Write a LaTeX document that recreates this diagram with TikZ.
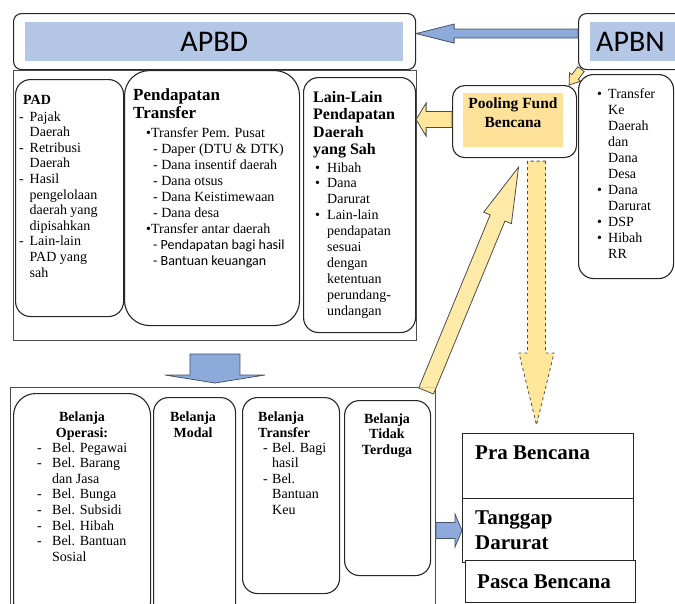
\documentclass[tikz,border=0pt]{standalone}
\usepackage{fontspec}
\setmainfont{Liberation Serif}
\newfontfamily\calfont{Carlito}
\usetikzlibrary{calc}

\definecolor{barblue}{HTML}{B4C7E7}
\definecolor{arrowblue}{HTML}{8EAADB}
\definecolor{arrowedge}{HTML}{44546A}
\definecolor{fundgold}{HTML}{FFE699}
\definecolor{poolgold}{HTML}{FFE29A}

\tikzset{
  roundbox/.style={draw=black!85, line width=1.1pt, rounded corners=#1, anchor=north west, inner sep=0pt},
  frame/.style={draw=black!70, line width=0.9pt, anchor=north west, inner sep=0pt},
  stagebox/.style={draw=black!85, line width=1pt, fill=white, anchor=north west, inner sep=0pt},
  bar/.style={fill=#1, anchor=north west, inner sep=0pt},
  bluearrow/.style={fill=arrowblue, draw=arrowedge, line width=0.8pt},
  goldarrow/.style={fill=fundgold, draw=black!70, line width=0.8pt},
  body/.style={anchor=base west, inner sep=0pt, font=\fontsize{14}{15.6}\selectfont},
  head/.style={anchor=base, inner sep=0pt, font=\bfseries\fontsize{14}{16}\selectfont}
}

% list with a marker column
\newcommand{\hanglist}[2][11pt]{\begin{tabular}[t]{@{}p{#1}@{}l@{}}#2\end{tabular}}
\newcommand{\lines}[2][l]{\begin{tabular}[t]{@{}#1@{}}#2\end{tabular}}
\newcommand{\bul}{\textbullet}

% block arrow: [style]{tail}{tip}{shaft half width}{head half width}{head length}
\newcommand{\blockarrow}[6][]{%
  \coordinate (ba-h) at ($(#3)!#6!(#2)$);
  \draw[#1] ($(#2)!#4!90:(#3)$) -- ($(ba-h)!#4!90:(#3)$) -- ($(ba-h)!#5!90:(#3)$)
    -- (#3) -- ($(ba-h)!#5!-90:(#3)$) -- ($(ba-h)!#4!-90:(#3)$) -- ($(#2)!#4!-90:(#3)$) -- cycle;
}

\begin{document}
\begin{tikzpicture}[x=1pt,y=-1pt]
    \useasboundingbox (0,0) rectangle (675,603);
    \clip (0,0) rectangle (675,603);

    % --- 1. Top row: APBD and APBN ---
    \node[roundbox=8pt, minimum width=402pt, minimum height=56pt] (apbd) at (13,13) {};
    \node[bar=barblue, minimum width=378pt, minimum height=39pt, font=\calfont\fontsize{30}{30}\selectfont] (apbdbar) at (25,22) {APBD};
    \node[roundbox=8pt, fill=white, minimum width=110pt, minimum height=56pt] (apbn) at (578,13) {};
    \node[bar=barblue, minimum width=90pt, minimum height=39pt] (apbnbar) at (590,22) {};
    \node[anchor=west, inner sep=0pt, font=\calfont\fontsize{30}{30}\selectfont] (apbntxt) at (596,41.5) {APBN};

    % --- 2. Revenue block ---
    \node[frame, minimum width=403pt, minimum height=270pt] (rev) at (13,70) {};
    \node[roundbox=15pt, minimum width=108pt, minimum height=237pt] (pad) at (15,79) {};
    \node[roundbox=25pt, minimum width=175pt, minimum height=255pt] (ptrans) at (124,70) {};
    \node[roundbox=15pt, minimum width=112pt, minimum height=255pt] (lain) at (303,77) {};

    \node[body, font=\bfseries\fontsize{14}{16}\selectfont] (padtitle) at (23,104) {PAD};
    \node[body] (padlist) at (19,121) {\hanglist[10.5pt]{- & Pajak\\ & Daerah\\ - & Retribusi\\ & Daerah\\ - & Hasil\\
        & pengelolaan\\ & daerah yang\\ & dipisahkan\\ - & Lain-lain\\ & PAD yang\\ & sah}};

    \node[body, font=\bfseries\fontsize{17}{18}\selectfont] (ptitle) at (133,100) {\lines{Pendapatan\\Transfer}};
    \node[body, font=\fontsize{14}{16}\selectfont] (plist) at (146,137) {\lines{\bul Transfer Pem. Pusat\\
        \hspace{7pt}- Daper (DTU \& DTK)\\ \hspace{7pt}- Dana insentif daerah\\ \hspace{7pt}- Dana otsus\\
        \hspace{7pt}- Dana Keistimewaan\\ \hspace{7pt}- Dana desa\\ \bul Transfer antar daerah\\
        \hspace{7pt}{\calfont - Pendapatan bagi hasil}\\ \hspace{7pt}{\calfont - Bantuan keuangan}}};

    \node[body, font=\bfseries\fontsize{16}{17.5}\selectfont] (ltitle) at (313,102) {\lines{Lain-Lain\\Pendapatan\\Daerah\\yang Sah}};
    \node[body, font=\fontsize{14}{15.9}\selectfont] (llist) at (315,172) {\hanglist[12pt]{\bul & Hibah\\ \bul & Dana\\
        & Darurat\\ \bul & Lain-lain\\ & pendapatan\\ & sesuai\\ & dengan\\ & ketentuan\\ & perundang-\\ & undangan}};

    % --- 3. Pooling fund and central transfers ---
    \node[roundbox=12pt, fill=white, minimum width=124pt, minimum height=72pt] (pool) at (452,85) {};
    \node[bar=poolgold, minimum width=100pt, minimum height=54pt] (poolbar) at (463,93) {};
    \node[head, font=\bfseries\fontsize{15.5}{19}\selectfont] (pooltxt) at (513,108.5) {\lines[c]{Pooling Fund\\Bencana}};

    \node[roundbox=15pt, minimum width=95pt, minimum height=204pt] (dana) at (578,74) {};
    \node[body, font=\fontsize{14}{16}\selectfont] (danalist) at (597,98) {\hanglist[11pt]{\bul & Transfer\\ & Ke\\
        & Daerah\\ & dan\\ & Dana\\ & Desa\\ \bul & Dana\\ & Darurat\\ \bul & DSP\\ \bul & Hibah\\ & RR}};

    % --- 4. Spending block ---
    \node[frame, minimum width=425pt, minimum height=230pt] (spend) at (10,387) {};
    \node[roundbox=22pt, minimum width=137pt, minimum height=230pt] (bop) at (13,393) {};
    \node[roundbox=15pt, minimum width=82pt, minimum height=226pt] (bmod) at (153,397) {};
    \node[roundbox=15pt, minimum width=97pt, minimum height=196pt] (btrf) at (242,397) {};
    \node[roundbox=15pt, minimum width=86pt, minimum height=175pt] (btt) at (344,400) {};

    \node[head] (boptitle) at (82,421) {\lines[c]{Belanja\\Operasi:}};
    \node[body] (boplist) at (37,452) {\hanglist[15pt]{- & Bel. Pegawai\\ - & Bel. Barang\\ & dan Jasa\\ - & Bel. Bunga\\
        - & Bel. Subsidi\\ - & Bel. Hibah\\ - & Bel. Bantuan\\ & Sosial}};
    \node[head] (bmodtitle) at (193,421) {\lines[c]{Belanja\\Modal}};
    \node[body, font=\bfseries\fontsize{14}{16}\selectfont] (btrftitle) at (258,421) {\lines{Belanja\\Transfer}};
    \node[body] (btrflist) at (263,452) {\hanglist[9pt]{- & Bel. Bagi\\ & hasil\\ - & Bel.\\ & Bantuan\\ & Keu}};
    \node[head, font=\bfseries\fontsize{14}{15.7}\selectfont] (btttitle) at (387,423) {\lines[c]{Belanja\\Tidak\\Terduga}};

    % --- 5. Disaster stages ---
    \node[stagebox, minimum width=171pt, minimum height=65pt] (pra) at (462,433) {};
    \node[stagebox, minimum width=171pt, minimum height=64pt] (tanggap) at (462,498) {};
    \node[stagebox, minimum width=170pt, minimum height=42pt] (pasca) at (465,560) {};
    \node[body, font=\bfseries\fontsize{21}{25}\selectfont] (pratxt) at (475,459) {Pra Bencana};
    \node[body, font=\bfseries\fontsize{21}{25}\selectfont] (tanggaptxt) at (475,524) {\lines{Tanggap\\Darurat}};
    \node[body, font=\bfseries\fontsize{21}{25}\selectfont] (pascatxt) at (477,588) {Pasca Bencana};

    % --- 6. Arrows ---
    \coordinate (a1-tail) at ([yshift=8pt]apbn.west);
    \coordinate (a1-tip) at ([yshift=8pt]apbd.east);
    \blockarrow[bluearrow]{a1-tail}{a1-tip}{4.5pt}{9.5pt}{38pt}

    \coordinate (a2-tail) at ($(apbn.south west)+(3,-1)$);
    \coordinate (a2-tip) at ($(pool.north east)+(-8,0)$);
    \blockarrow[goldarrow]{a2-tail}{a2-tip}{4pt}{7pt}{10pt}

    \coordinate (a3-tail) at ([yshift=2pt]pool.west);
    \coordinate (a3-tip) at (lain.east |- a3-tail);
    \blockarrow[goldarrow]{a3-tail}{a3-tip}{8pt}{16.5pt}{10pt}

    \coordinate (a4-tail) at ($(rev.south)+(0,13)$);
    \coordinate (a4-tip) at ($(a4-tail |- spend.north)+(0,-4)$);
    \blockarrow[bluearrow]{a4-tail}{a4-tip}{25pt}{50pt}{8pt}

    \coordinate (a5-tail) at ($(btt.north east)+(-5,-9)$);
    \coordinate (a5-tip) at ($(pool.south)+(4,9)$);
    \blockarrow[goldarrow, fill opacity=0.85]{a5-tail}{a5-tip}{8pt}{15pt}{55pt}

    \coordinate (a6-tail) at ($(pool.south)+(22,3)$);
    \coordinate (a6-tip) at ($(pra.north)+(-11.5,-8)$);
    \blockarrow[goldarrow, dashed]{a6-tail}{a6-tip}{9pt}{17.5pt}{72pt}

    \coordinate (a7-tail) at (spend.east |- tanggap.west);
    \coordinate (a7-tip) at (tanggap.west);
    \blockarrow[bluearrow]{a7-tail}{a7-tip}{8pt}{16.5pt}{7pt}

\end{tikzpicture}
\end{document}
